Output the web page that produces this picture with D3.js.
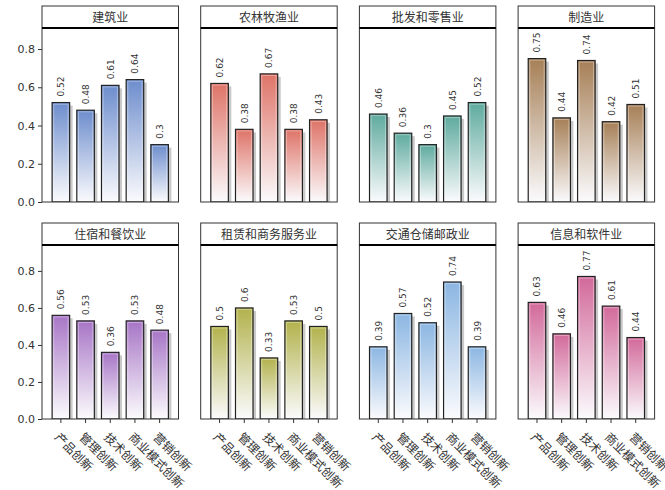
<!DOCTYPE html>
<html><head><meta charset="utf-8">
<script src="https://cdn.jsdelivr.net/npm/d3@7"></script>
<style>
body{margin:0;background:#fff;}
text{font-family:"DejaVu Sans","Noto Sans CJK SC",sans-serif;fill:#333;}
</style></head>
<body><svg id="c" width="665" height="490"></svg>
<script>
const categories = ["产品创新","管理创新","技术创新","商业模式创新","营销创新"];
const industries = ["建筑业","农林牧渔业","批发和零售业","制造业","住宿和餐饮业","租赁和商务服务业","交通仓储邮政业","信息和软件业"];
const v_jianzhu = [0.52,0.48,0.61,0.64,0.3];
const v_nonglin = [0.62,0.38,0.67,0.38,0.43];
const v_pifa    = [0.46,0.36,0.3,0.45,0.52];
const v_zhizao  = [0.75,0.44,0.74,0.42,0.51];
const v_zhusu   = [0.56,0.53,0.36,0.53,0.48];
const v_zulin   = [0.5,0.6,0.33,0.53,0.5];
const v_jiaotong= [0.39,0.57,0.52,0.74,0.39];
const v_xinxi   = [0.63,0.46,0.77,0.61,0.44];
const seriesValues = [v_jianzhu,v_nonglin,v_pifa,v_zhizao,v_zhusu,v_zulin,v_jiaotong,v_xinxi];
const colors = ["#6d8dcd","#de7367","#5eaa9e","#a67f56","#a775c6","#b2b24c","#8bb6e2","#d2699a"];
const yTicks = [0,0.2,0.4,0.6,0.8];
const rowMax = [0.91,0.94];

const svg = d3.select("#c");
const defs = svg.append("defs");
const panelW = 136.5, stepX = 158.7, left0 = 42;
const rowTop = [6,223], stripH = 22, rowBottom = [202,419];

seriesValues.forEach((vals,k)=>{
  const row = Math.floor(k/4), col = k%4;
  const x0 = left0 + col*stepX, x1 = x0 + panelW;
  const yTop = rowTop[row] + stripH, yBot = rowBottom[row];
  const x = d3.scaleBand().domain(categories).range([x0,x1]).paddingInner(0.29).paddingOuter(0.41);
  const y = d3.scaleLinear().domain([0,rowMax[row]]).range([yBot,yTop]);
  const g = svg.append("g");

  const gid = "grad"+k;
  const gr = defs.append("linearGradient").attr("id",gid).attr("x1",0).attr("y1",0).attr("x2",0).attr("y2",1);
  gr.append("stop").attr("offset","0%").attr("stop-color",colors[k]);
  gr.append("stop").attr("offset","100%").attr("stop-color","#fbfbfd");
  const cid = "clip"+k;
  defs.append("clipPath").attr("id",cid).append("rect")
    .attr("x",x0).attr("y",yTop).attr("width",panelW).attr("height",yBot-yTop);

  const bars = g.append("g").attr("clip-path",`url(#${cid})`);
  bars.selectAll("rect.sh").data(vals).join("rect").attr("class","sh")
    .attr("x",(d,i)=>x(categories[i])+3).attr("y",d=>y(d)+3)
    .attr("width",x.bandwidth()).attr("height",d=>yBot-y(d))
    .attr("fill","#888").attr("opacity",0.45);
  bars.selectAll("rect.b").data(vals).join("rect").attr("class","b")
    .attr("x",(d,i)=>x(categories[i])).attr("y",d=>y(d))
    .attr("width",x.bandwidth()).attr("height",d=>yBot-y(d))
    .attr("fill",`url(#${gid})`).attr("stroke","#222").attr("stroke-width",1.2);
  bars.selectAll("rect.hi").data(vals).join("rect").attr("class","hi")
    .attr("x",(d,i)=>x(categories[i])+1.6).attr("y",d=>y(d)+1.6)
    .attr("width",x.bandwidth()-3.2).attr("height",d=>Math.max(0,yBot-y(d)-3.2))
    .attr("fill","none").attr("stroke","#fff").attr("stroke-opacity",0.35).attr("stroke-width",1);

  g.selectAll("text.v").data(vals).join("text").attr("class","v")
    .attr("transform",(d,i)=>`translate(${x(categories[i])+x.bandwidth()/2+3.5},${y(d)-6}) rotate(-90)`)
    .attr("text-anchor","start").attr("font-size",9).text(d=>String(d));

  g.append("rect").attr("x",x0).attr("y",rowTop[row]).attr("width",panelW).attr("height",yBot-rowTop[row])
    .attr("fill","none").attr("stroke","#333").attr("stroke-width",1);
  g.append("line").attr("x1",x0).attr("x2",x1).attr("y1",yTop).attr("y2",yTop).attr("stroke","#000").attr("stroke-width",2);
  g.append("text").attr("x",(x0+x1)/2).attr("y",rowTop[row]+stripH/2+4.5).attr("text-anchor","middle")
    .attr("font-size",12).text(industries[k]);

  if(col===0){
    const ax = d3.axisLeft(y).tickValues(yTicks).tickFormat(d3.format(".1f")).tickSize(4).tickPadding(3);
    const a = svg.append("g").attr("transform",`translate(${x0},0)`).call(ax);
    a.select(".domain").remove();
    a.selectAll("line").attr("stroke","#333");
    a.selectAll("text").attr("font-size",11).style("fill","#333").style("font-family","DejaVu Sans");
  }
  if(row===1){
    const ax = d3.axisBottom(x).tickSize(4).tickFormat("");
    const a = svg.append("g").attr("transform",`translate(0,${yBot})`).call(ax);
    a.select(".domain").remove();
    a.selectAll("line").attr("stroke","#333");
    g.selectAll("text.xl").data(categories).join("text").attr("class","xl")
      .attr("transform",d=>`translate(${x(d)+x.bandwidth()/2-7},${yBot+19}) rotate(45)`)
      .attr("text-anchor","start").attr("font-size",12).text(d=>d);
  }
});
</script></body></html>
